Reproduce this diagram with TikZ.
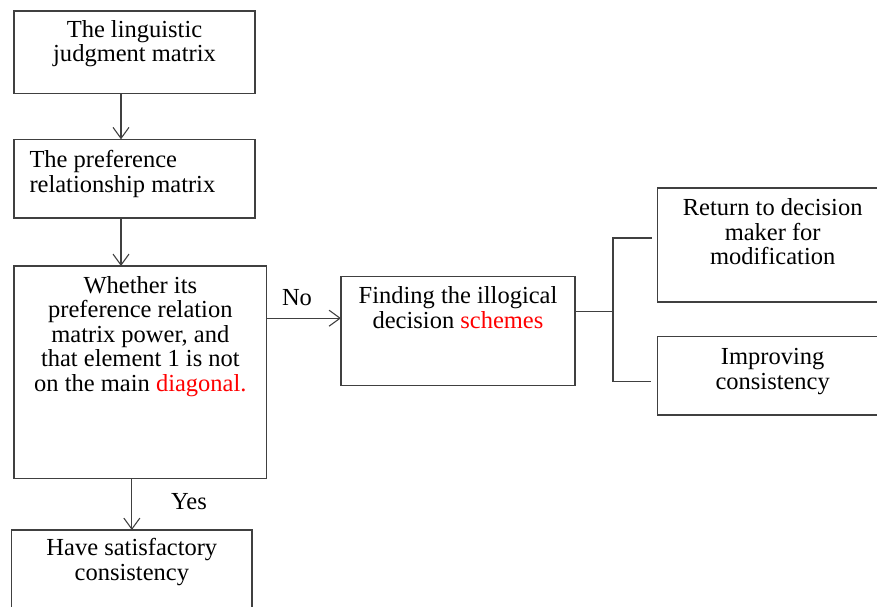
\documentclass[tikz,border=0pt]{standalone}
\usepackage{fontspec}
\setmainfont{Liberation Serif}
\usetikzlibrary{positioning,arrows.meta}

\tikzset{
  stepbox/.style={draw=black!75, line width=1.1pt, inner sep=0pt, outer sep=0pt, anchor=north west},
  boxtext/.style={inner sep=0pt, align=center, font=\fontsize{24.5}{24.5}\selectfont},
  arr/.style={draw=black!75, line width=1.1pt, -{Straight Barb[length=11pt,width=16pt,line width=1.1pt]}},
  link/.style={draw=black!75, line width=1.1pt}
}

\begin{document}
\begin{tikzpicture}[x=1pt,y=1pt]
  \useasboundingbox (0,0) rectangle (877,-606);
  \clip (0,0) rectangle (877,-606);
  % boxes
  \node[stepbox, minimum width=241, minimum height=82.3] (judge) at (14,-11) {};
  \node[stepbox, minimum width=241, minimum height=78.7] (pref) at (14,-139.3) {};
  \node[stepbox, minimum width=252.7, minimum height=212.7] (check) at (14,-266) {};
  \node[stepbox, minimum width=240.3, minimum height=82] (sat) at (11.7,-530) {};
  \node[stepbox, minimum width=234, minimum height=109] (find) at (341,-276.7) {};
  \node[stepbox, minimum width=230, minimum height=114] (ret) at (657.7,-188) {};
  \node[stepbox, minimum width=230, minimum height=78.3] (impr) at (657.7,-336.7) {};
  % texts
  \node[boxtext, below=9pt of judge.north] (judgetxt) {The linguistic\\judgment matrix};
  \node[boxtext, align=left, anchor=north west, below right=10.8pt and 15.3pt of pref.north west] (preftxt) {The preference\\relationship matrix};
  \node[boxtext, below=10.1pt of check.north] (checktxt) {Whether its\\preference relation\\matrix power, and\\that element 1 is not\\on the main \textcolor{red}{diagonal.}};
  \node[boxtext, below=8.4pt of sat.north] (sattxt) {Have satisfactory\\consistency};
  \node[boxtext, below=9.7pt of find.north] (findtxt) {Finding the illogical\\decision \textcolor{red}{schemes}};
  \node[boxtext, below=10.4pt of ret.north] (rettxt) {Return to decision\\maker for\\modification};
  \node[boxtext, below=11.7pt of impr.north] (imprtxt) {Improving\\consistency};
  \node[boxtext, anchor=base] (nolbl) at (297,-305) {No};
  \node[boxtext, anchor=base] (yeslbl) at (189,-509) {Yes};
  % connectors
  \draw[arr] ([xshift=-13.5pt]judge.south) -- ([xshift=-13.5pt]judge.south |- pref.north);
  \draw[arr] ([xshift=-13.5pt]pref.south) -- ([xshift=-13.5pt]pref.south |- check.north);
  \draw[arr] ([yshift=13pt]find.west -| check.east) -- ([yshift=13pt]find.west);
  \draw[arr] (sat.north |- check.south) -- (sat.north);
  \draw[link] ([yshift=20pt]find.east) -- ++(38pt,0) coordinate (fork);
  \draw[link] ([xshift=-6pt,yshift=7pt]ret.west) -| (fork) |- ([xshift=-7pt,yshift=-5.7pt]impr.west);
\end{tikzpicture}
\end{document}
